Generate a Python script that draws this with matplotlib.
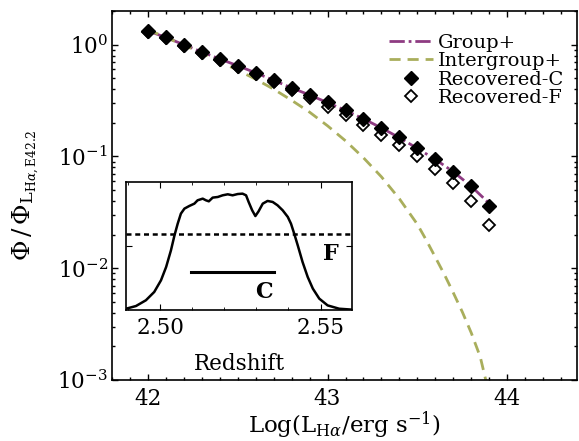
import numpy as np
import matplotlib
matplotlib.use("Agg")
import matplotlib.pyplot as plt
from matplotlib.ticker import MultipleLocator, LogLocator, NullFormatter

plt.rcParams['font.family'] = ['DejaVu Serif']
plt.rcParams['mathtext.fontset'] = 'dejavuserif'

# ---- main panel data ----
lum_pts = [42.0, 42.1, 42.2, 42.3, 42.4, 42.5, 42.6, 42.7, 42.8, 42.9,
           43.0, 43.1, 43.2, 43.3, 43.4, 43.5, 43.6, 43.7, 43.8, 43.9]
rec_c = [1.334, 1.162, 1.0, 0.860, 0.745, 0.649, 0.558, 0.479, 0.410, 0.357,
         0.304, 0.258, 0.218, 0.180, 0.148, 0.118, 0.0947, 0.0730, 0.0539, 0.0364]
rec_f = [1.31, 1.14, 0.98, 0.845, 0.73, 0.635, 0.545, 0.465, 0.395, 0.333,
         0.275, 0.233, 0.192, 0.156, 0.1255, 0.100, 0.0776, 0.0578, 0.0399, 0.0245]

group_lum = [42.0, 42.1, 42.2, 42.3, 42.4, 42.5, 42.6, 42.7, 42.8, 42.9,
             43.0, 43.1, 43.2, 43.3, 43.4, 43.5, 43.6, 43.7, 43.8, 43.9]
group_phi = [1.33, 1.16, 1.0, 0.86, 0.745, 0.648, 0.56, 0.48, 0.41, 0.355,
             0.303, 0.258, 0.217, 0.18, 0.147, 0.118, 0.094, 0.073, 0.054, 0.038]

inter_lum = [42.0, 42.1, 42.2, 42.3, 42.4, 42.5, 42.6, 42.7, 42.8, 42.9,
             43.0, 43.1, 43.2, 43.3, 43.4, 43.5, 43.55, 43.6, 43.65, 43.7,
             43.75, 43.8, 43.85, 43.9]
inter_phi = [1.362, 1.162, 0.99, 0.839, 0.704, 0.591, 0.491, 0.400, 0.318, 0.249,
             0.188, 0.138, 0.0973, 0.0657, 0.0418, 0.0247, 0.0178, 0.01253, 0.00881, 0.00603,
             0.00407, 0.00264, 0.00161, 0.00074]

# ---- inset data (filter transmission) ----
z_filt = [2.4894, 2.4925, 2.4956, 2.4982, 2.5003, 2.5019, 2.5034, 2.5045, 2.5055,
          2.5065, 2.5076, 2.5091, 2.5107, 2.5117, 2.5133, 2.5143, 2.5152, 2.5164,
          2.5180, 2.5195, 2.5211, 2.5226, 2.5242, 2.5257, 2.5268, 2.5276, 2.5287,
          2.5297, 2.5307, 2.5320, 2.5335, 2.5351, 2.5366, 2.5382, 2.5398, 2.5408,
          2.5418, 2.5429, 2.5444, 2.5460, 2.5476, 2.5496, 2.5522, 2.5558, 2.5598]
t_filt = [0.010, 0.031, 0.076, 0.141, 0.232, 0.336, 0.466, 0.583, 0.674,
          0.753, 0.792, 0.8125, 0.831, 0.857, 0.870, 0.857, 0.849, 0.878,
          0.883, 0.896, 0.904, 0.896, 0.906, 0.909, 0.896, 0.844, 0.779,
          0.734, 0.771, 0.831, 0.852, 0.844, 0.818, 0.779, 0.727, 0.674,
          0.596, 0.505, 0.375, 0.258, 0.167, 0.089, 0.036, 0.010, 0.003]
f_level = 0.591
c_range = [2.5096, 2.5354]
c_level = 0.297

purple = '#8E3B82'
olive = '#A9AE5C'

fig = plt.figure(figsize=(5.79, 4.41), dpi=100)
ax = fig.add_axes([0.1934, 0.1383, 0.8036, 0.8367])

ax.plot(group_lum, group_phi, color=purple, ls=(0, (5.5, 1.4, 1.0, 1.4)), lw=2.0, label='Group+')
ax.plot(inter_lum, inter_phi, color=olive, ls=(0, (4, 2.5)), lw=2.0, label='Intergroup+')
ax.plot(lum_pts, rec_f, ls='none', marker='D', ms=6.5, mfc='white', mec='black', mew=1.3,
        label='Recovered-F', zorder=3)
ax.plot(lum_pts, rec_c, ls='none', marker='D', ms=7, mfc='black', mec='black',
        label='Recovered-C', zorder=4)

ax.set_yscale('log')
ax.set_xlim(41.8, 44.39)
ax.set_ylim(1e-3, 2.0)
ax.xaxis.set_major_locator(MultipleLocator(1))
ax.xaxis.set_minor_locator(MultipleLocator(0.1))
ax.yaxis.set_major_locator(LogLocator(base=10, numticks=10))
ax.yaxis.set_minor_locator(LogLocator(base=10, subs=np.arange(2, 10), numticks=20))
ax.yaxis.set_minor_formatter(NullFormatter())
ax.tick_params(which='both', direction='in', top=True, right=True, labelsize=15.5, width=1.0)
ax.tick_params(which='major', length=4.5)
ax.tick_params(which='minor', length=2.5)
ax.tick_params(axis='x', pad=5.5)
ax.tick_params(axis='y', pad=3)
for s in ax.spines.values():
    s.set_linewidth(1.2)

ax.set_xlabel(r'Log(L$_{\mathrm{H}\alpha}$/erg s$^{-1}$)', fontsize=16.5)
ax.xaxis.set_label_coords(0.5, -0.08)
ax.set_ylabel(r'$\Phi\,/\,\Phi_{\mathrm{L}_{\mathrm{H}\alpha,\mathrm{E}42.2}}$', fontsize=18)
ax.yaxis.set_label_coords(-0.15, 0.5)

h, l = ax.get_legend_handles_labels()
order = [0, 1, 3, 2]
ax.legend([h[i] for i in order], [l[i] for i in order], loc='upper left',
          frameon=False, fontsize=14, handlelength=2.27, labelspacing=0.03,
          handletextpad=0.26, borderaxespad=0.0, borderpad=0.0,
          bbox_to_anchor=(389 / 579, 1 - 33.5 / 441), bbox_transform=fig.transFigure)

# ---- inset ----
ins = fig.add_axes([126 / 579, 1 - 310 / 441, 226 / 579, 128 / 441])
ins.plot(z_filt, t_filt, color='black', lw=1.8)
ins.axhline(f_level, color='black', ls=(0, (2, 1.5)), lw=1.8)
ins.plot(c_range, [c_level, c_level], color='black', lw=2.2)
ins.text(2.5325, 0.14, 'C', fontsize=16, fontweight='bold', ha='center', va='center')
ins.text(2.5533, 0.44, 'F', fontsize=16, fontweight='bold', ha='center', va='center')
ins.set_xlim(2.4894, 2.5598)
ins.set_ylim(0, 1)
ins.set_xticks([2.50, 2.55])
ins.set_xticklabels(['2.50', '2.55'])
ins.xaxis.set_minor_locator(MultipleLocator(0.01))
ins.set_yticks([0.5])
ins.set_yticklabels([])
ins.tick_params(which='both', direction='in', top=True, right=True, labelsize=15.5)
ins.tick_params(which='major', length=4.5)
ins.tick_params(which='minor', length=2.5)
ins.tick_params(axis='x', pad=5)
ins.set_xlabel('Redshift', fontsize=15.5, labelpad=10)
for s in ins.spines.values():
    s.set_linewidth(1.2)

fig.savefig('out.png', dpi=100)
